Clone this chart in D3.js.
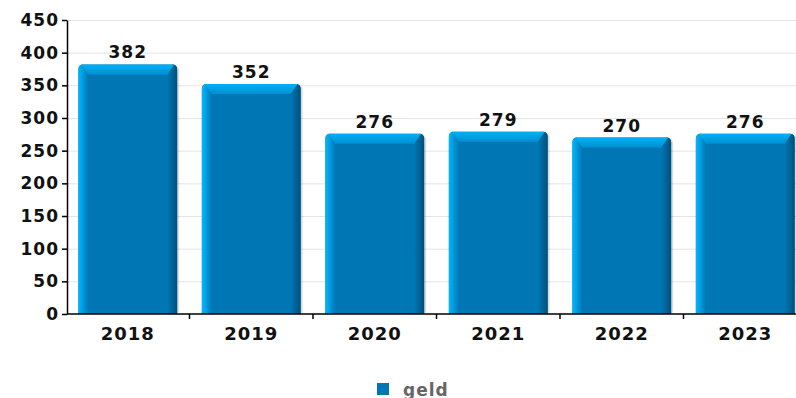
<!DOCTYPE html>
<html>
<head>
<meta charset="utf-8">
<script src="https://cdn.jsdelivr.net/npm/d3@7"></script>
<style>
  body { margin: 0; background: #fff; }
  text { font-family: "DejaVu Sans", sans-serif; font-weight: bold; }
</style>
</head>
<body>
<script>
// Chart data
const years = ["2018", "2019", "2020", "2021", "2022", "2023"];
const geld = [382, 352, 276, 279, 270, 276];
const yTicks = [0, 50, 100, 150, 200, 250, 300, 350, 400, 450];
const seriesName = "geld";

const W = 796, H = 398;
const margin = { top: 20, right: -12, bottom: 84, left: 67 };

const svg = d3.select("body").append("svg")
    .attr("width", W)
    .attr("height", H);

const x = d3.scaleBand()
    .domain(years)
    .range([margin.left - 1, W - margin.right - 1])
    .paddingInner(0.2)
    .paddingOuter(0.1);

const y = d3.scaleLinear()
    .domain([0, 450])
    .range([H - margin.bottom, margin.top]);

// gradients for the bevelled bars
const defs = svg.append("defs");
const gLeft = defs.append("linearGradient").attr("id", "gLeft");
gLeft.append("stop").attr("offset", "0%").attr("stop-color", "#00b8ff");
gLeft.append("stop").attr("offset", "100%").attr("stop-color", "#0077b5");
const gRight = defs.append("linearGradient").attr("id", "gRight");
gRight.append("stop").attr("offset", "0%").attr("stop-color", "#0077b5");
gRight.append("stop").attr("offset", "100%").attr("stop-color", "#00507a");
const gTop = defs.append("linearGradient").attr("id", "gTop")
    .attr("x1", 0).attr("y1", 0).attr("x2", 0).attr("y2", 1);
gTop.append("stop").attr("offset", "0%").attr("stop-color", "#00b0f6");
gTop.append("stop").attr("offset", "100%").attr("stop-color", "#0090d2");

// grid lines
svg.append("g")
    .selectAll("line")
    .data(yTicks.filter(d => d > 0))
    .join("line")
    .attr("x1", margin.left)
    .attr("x2", W)
    .attr("y1", d => y(d) + 0.5)
    .attr("y2", d => y(d) + 0.5)
    .attr("stroke", "#e4e4e4");

// bars
const bw = x.bandwidth();
const bev = 10;
const bars = svg.append("g")
    .selectAll("g")
    .data(years.map((k, i) => ({ key: k, value: geld[i] })))
    .join("g")
    .attr("transform", d => `translate(${x(d.key)},${y(d.value)})`);

// shadow
bars.append("rect")
    .attr("x", 2)
    .attr("y", 2)
    .attr("width", bw)
    .attr("height", d => y(0) - y(d.value) - 2)
    .attr("rx", 4)
    .attr("fill", "#000")
    .attr("opacity", 0.15);

// body with rounded top corners
const bodyPath = h => `M0,${h} L0,5 Q0,0 5,0 L${bw - 5},0 Q${bw},0 ${bw},5 L${bw},${h} Z`;
bars.append("path")
    .attr("d", d => bodyPath(y(0) - y(d.value)))
    .attr("fill", "#0077b5");

bars.append("path")
    .attr("d", d => `M0,${y(0) - y(d.value)} L0,5 Q0,0 5,0 L${bev},${bev} L${bev},${y(0) - y(d.value)} Z`)
    .attr("fill", "url(#gLeft)");

bars.append("path")
    .attr("d", d => `M${bw},${y(0) - y(d.value)} L${bw},5 Q${bw},0 ${bw - 5},0 L${bw - bev},${bev} L${bw - bev},${y(0) - y(d.value)} Z`)
    .attr("fill", "url(#gRight)");

// top bevel
bars.append("path")
    .attr("d", `M3,0 L${bw - 3},0 L${bw - bev},${bev} L${bev},${bev} Z`)
    .attr("fill", "url(#gTop)");

// value labels
bars.append("text")
    .attr("x", bw / 2)
    .attr("y", -6)
    .attr("text-anchor", "middle")
    .style("font-size", "17px")
    .style("letter-spacing", "1px")
    .attr("fill", "#111")
    .text(d => d.value);

// y axis
const yAxis = svg.append("g")
    .attr("transform", `translate(${margin.left},0)`)
    .call(d3.axisLeft(y).tickValues(yTicks).tickSize(5).tickSizeOuter(0));
yAxis.select(".domain").attr("stroke", "#000").attr("stroke-width", 1.5);
yAxis.selectAll(".tick line").attr("stroke", "#000").attr("stroke-width", 1.5);
yAxis.selectAll("text")
    .attr("x", -8)
    .attr("fill", "#111")
    .style("font-size", "17px")
    .style("letter-spacing", "1px")
    .style("font-family", "DejaVu Sans")
    .style("font-weight", "bold");

// x axis
const xAxisG = svg.append("g");
xAxisG.append("line")
    .attr("x1", margin.left)
    .attr("x2", W)
    .attr("y1", y(0))
    .attr("y2", y(0))
    .attr("stroke", "#000")
    .attr("stroke-width", 1.5);
xAxisG.selectAll("line.sep")
    .data(years.slice(1))
    .join("line")
    .attr("class", "sep")
    .attr("x1", d => x(d) - x.step() * x.paddingInner() / 2)
    .attr("x2", d => x(d) - x.step() * x.paddingInner() / 2)
    .attr("y1", y(0))
    .attr("y2", y(0) + 5)
    .attr("stroke", "#000")
    .attr("stroke-width", 1.5);
xAxisG.selectAll("text")
    .data(years)
    .join("text")
    .attr("x", d => x(d) + bw / 2)
    .attr("y", y(0) + 26)
    .attr("text-anchor", "middle")
    .attr("fill", "#111")
    .style("font-size", "18px")
    .style("letter-spacing", "1px")
    .text(d => d);

// legend
const legend = svg.append("g").attr("transform", "translate(377,383)");
legend.append("rect")
    .attr("width", 12)
    .attr("height", 12)
    .attr("fill", "#0077b5");
legend.append("text")
    .attr("x", 26)
    .attr("y", 13)
    .attr("fill", "#666")
    .style("font-size", "17px")
    .style("letter-spacing", "1px")
    .text(seriesName);
</script>
</body>
</html>
